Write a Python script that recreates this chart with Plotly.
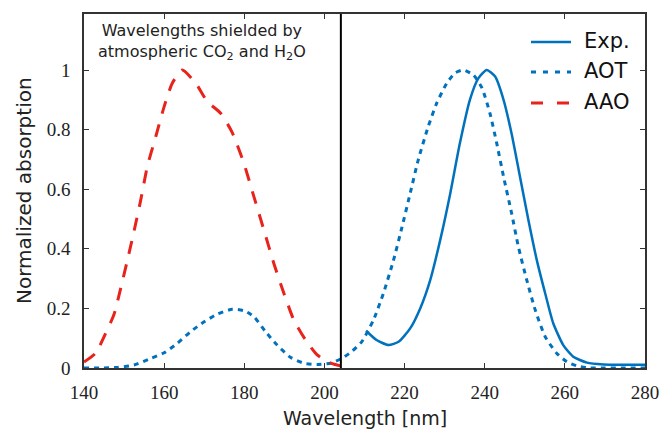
import plotly.graph_objects as go

# ---- data ----
exp_x = [210.4, 213, 216, 218.5, 221.4, 223.9, 226.4, 228.9, 231.4, 233.8, 236.3, 238.4, 240.5,
         242.6, 244.7, 246.7, 248.8, 250.9, 253, 255.1, 257.1, 259.6, 262.1, 265.5, 269.6, 275, 280]
exp_y = [0.125, 0.094, 0.077, 0.088, 0.133, 0.2, 0.295, 0.43, 0.586, 0.754, 0.9, 0.972, 1.0,
         0.978, 0.9, 0.787, 0.642, 0.497, 0.362, 0.25, 0.15, 0.077, 0.038, 0.018, 0.012, 0.011, 0.011]

aot_x = [140, 144, 148.3, 152.5, 156.6, 160, 163.3, 166.6, 170, 173.3, 177, 180, 182.4, 185.3,
         188.2, 191.6, 194.9, 198.2, 201.6, 204.3, 206.8, 209.3, 212.2, 214.7, 217.2, 219.3, 221.4,
         223.4, 225.9, 228, 230.5, 232.6, 234.7, 237.2, 239.3, 241.3, 243, 244.7, 246.7, 248.4,
         250.5, 252.6, 255.1, 258, 260.5, 263, 266.3, 270, 275, 280]
aot_y = [0.0, 0.0, 0.002, 0.01, 0.032, 0.051, 0.083, 0.122, 0.155, 0.181, 0.197, 0.192, 0.172, 0.122,
         0.077, 0.035, 0.016, 0.012, 0.016, 0.032, 0.055, 0.088, 0.16, 0.25, 0.36, 0.47, 0.586,
         0.698, 0.81, 0.888, 0.955, 0.99, 1.0, 0.983, 0.94, 0.855, 0.754, 0.642, 0.52, 0.407,
         0.295, 0.195, 0.105, 0.049, 0.021, 0.007, 0.0, 0.0, 0.0, 0.0]

aao_x = [140, 142.9, 145.4, 147.5, 149.2, 150.8, 152.5, 154.1, 155.8, 157.9, 160, 162, 164.5,
         167.9, 170.8, 174.1, 177, 179.9, 182.4, 184.9, 187.4, 189.9, 192.4, 195.3, 198.2, 201.6, 204]
aao_y = [0.02, 0.05, 0.116, 0.18, 0.27, 0.36, 0.46, 0.56, 0.676, 0.776, 0.877, 0.955, 1.0,
         0.955, 0.894, 0.855, 0.79, 0.687, 0.575, 0.463, 0.35, 0.25, 0.16, 0.094, 0.044, 0.016, 0.007]

series_names = ["Exp.", "AOT", "AAO"]
cutoff_nm = 204.1
x_ticks = [140, 160, 180, 200, 220, 240, 260, 280]
y_ticks = [0, 0.2, 0.4, 0.6, 0.8, 1]
y_tick_text = ["0", "0.2", "0.4", "0.6", "0.8", "1"]

BLUE = "#0072BD"
RED = "#E8231C"
SANS = "DejaVu Sans"
SERIF = "Liberation Serif"

# plot-area geometry in pixels (used only to place the legend in paper units)
W, H = 662, 432
ML, MR, MT, MB = 84, 17, 14, 64
PW, PH = W - ML - MR, H - MT - MB


def px2paper_x(px):
    return (px - ML) / PW


def px2paper_y(py):
    return (H - MB - py) / PH


styles = [
    dict(color=BLUE, width=2.5, dash="solid"),
    dict(color=BLUE, width=3, dash="5px,5px"),
    dict(color=RED, width=3, dash="13px,11px"),
]

fig = go.Figure()
for xs, ys, name, st in zip([exp_x, aot_x, aao_x], [exp_y, aot_y, aao_y], series_names, styles):
    fig.add_trace(go.Scatter(x=xs, y=ys, mode="lines", name=name, showlegend=False,
                             line=dict(shape="spline", smoothing=0.6, **st)))

fig.add_shape(type="line", x0=cutoff_nm, x1=cutoff_nm, y0=0, y1=1, xref="x", yref="paper",
              line=dict(color="black", width=2))

# legend (drawn by hand to match the reference's spacing)
legend_rows_py = [42, 72, 103]
legend_dash = [
    dict(color=BLUE, width=2.5, dash="solid"),
    dict(color=BLUE, width=3, dash="5px,7px"),
    dict(color=RED, width=3, dash="12px,14px"),
]
for name, py, st in zip(series_names, legend_rows_py, legend_dash):
    fig.add_shape(type="line", xref="paper", yref="paper",
                  x0=px2paper_x(531), x1=px2paper_x(571), y0=px2paper_y(py), y1=px2paper_y(py),
                  line=st)
    fig.add_annotation(x=px2paper_x(582), y=px2paper_y(py - 1), xref="paper", yref="paper",
                       xanchor="left", yanchor="middle", showarrow=False, text=name,
                       font=dict(family=SANS, size=21, color="#111"))

fig.add_annotation(x=169.4, y=px2paper_y(42), xref="x", yref="paper", showarrow=False,
                   xanchor="center", yanchor="middle",
                   text="Wavelengths shielded by<br>atmospheric CO<sub>2</sub> and H<sub>2</sub>O",
                   font=dict(family=SANS, size=16, color="#222"), align="center")

fig.add_annotation(x=0.5, y=0, xref="paper", yref="paper", yshift=-50, showarrow=False,
                   xanchor="center", yanchor="middle",
                   text="Wavelength [nm]", font=dict(family=SANS, size=19, color="#222"))
fig.add_annotation(x=0, y=0.5, xref="paper", yref="paper", xshift=-60, showarrow=False,
                   xanchor="center", yanchor="middle",
                   text="Normalized absorption", textangle=-90,
                   font=dict(family=SANS, size=20, color="#222"))

axis_common = dict(showgrid=False, zeroline=False, showline=True, linecolor="#333", linewidth=1.5,
                   mirror="ticks", ticks="inside", ticklen=5, tickcolor="#333", tickwidth=1,
                   automargin=False,
                   tickfont=dict(family=SERIF, size=19, color="#222"))

fig.update_layout(
    width=W, height=H,
    margin=dict(l=ML, r=MR, t=MT, b=MB),
    paper_bgcolor="white", plot_bgcolor="white",
    xaxis=dict(range=[140, 280], tickvals=x_ticks, ticklabelstandoff=6, **axis_common),
    yaxis=dict(range=[0, 1.188], tickvals=y_ticks, ticktext=y_tick_text, ticklabelstandoff=8,
               **axis_common),
    showlegend=False,
)

fig.write_html("out.html", config={"displayModeBar": False})

# remove the browser's default page margin so the figure sits at the window's corner
with open("out.html", "r", encoding="utf-8") as f:
    html = f.read()
html = html.replace("<head>", "<head><style>html,body{margin:0;padding:0;overflow:hidden}</style>", 1)
with open("out.html", "w", encoding="utf-8") as f:
    f.write(html)
